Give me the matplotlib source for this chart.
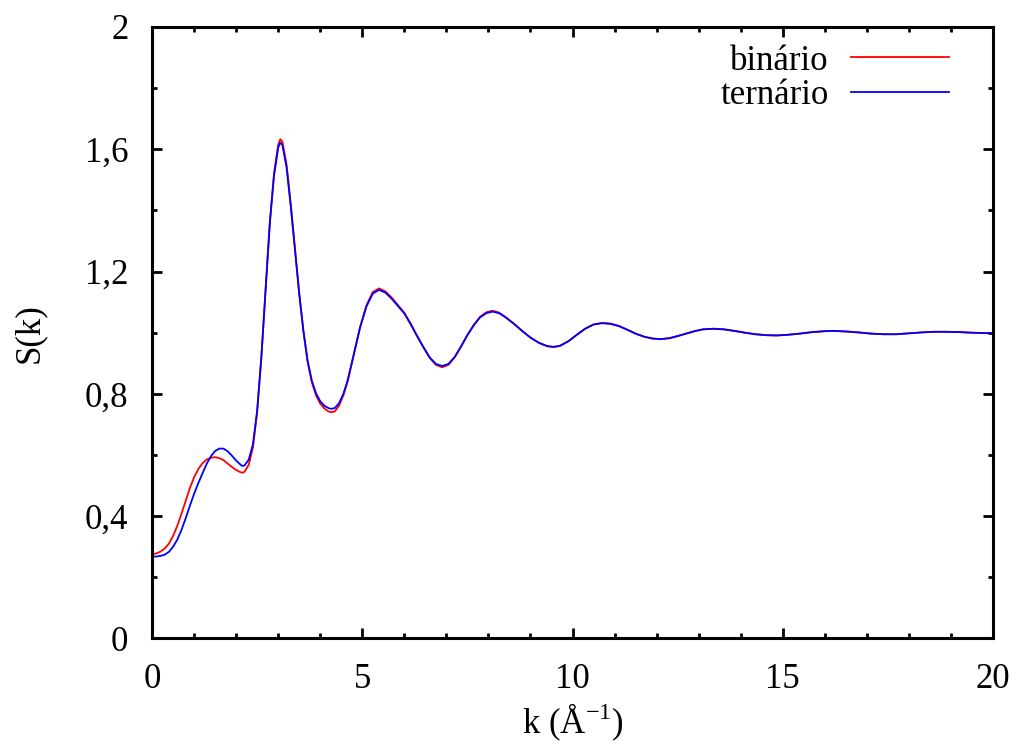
import matplotlib
matplotlib.use("Agg")
import matplotlib.pyplot as plt
from matplotlib.ticker import MultipleLocator

plt.rcParams['font.family'] = ['Liberation Serif', 'DejaVu Serif']
plt.rcParams['mathtext.fontset'] = 'custom'
plt.rcParams['mathtext.rm'] = 'Liberation Serif'

# structure factor S(k) for the two liquids
k = [0.0, 0.1, 0.2, 0.3, 0.4, 0.5, 0.6, 0.7, 0.8, 0.9, 1.0, 1.1, 1.2, 1.3,
     1.4, 1.5, 1.6, 1.7, 1.8, 1.9, 2.0, 2.1, 2.15, 2.2, 2.3, 2.4, 2.5, 2.6,
     2.7, 2.8, 2.9, 3.0, 3.05, 3.1, 3.2, 3.3, 3.4, 3.5, 3.6, 3.7, 3.8, 3.9,
     4.0, 4.1, 4.2, 4.27, 4.35, 4.45, 4.55, 4.65, 4.8, 4.95, 5.1, 5.25, 5.4,
     5.55, 5.7, 5.85, 6.0, 6.15, 6.3, 6.45, 6.6, 6.75, 6.9, 7.05, 7.2, 7.35,
     7.5, 7.65, 7.8, 7.95, 8.1, 8.25, 8.4, 8.6, 8.8, 9.0, 9.2, 9.4, 9.55,
     9.7, 9.9, 10.1, 10.3, 10.5, 10.7, 10.9, 11.1, 11.3, 11.5, 11.7, 11.9,
     12.1, 12.3, 12.5, 12.7, 12.9, 13.1, 13.35, 13.6, 13.85, 14.1, 14.35,
     14.6, 14.85, 15.1, 15.4, 15.7, 16.0, 16.2, 16.5, 16.8, 17.1, 17.4,
     17.7, 18.0, 18.3, 18.6, 18.9, 19.2, 19.5, 19.8, 20.0]

s_binario = [0.276, 0.278, 0.284, 0.294, 0.310, 0.335, 0.368, 0.408, 0.450,
             0.492, 0.527, 0.554, 0.573, 0.585, 0.591, 0.593, 0.590, 0.583,
             0.572, 0.561, 0.551, 0.544, 0.542, 0.545, 0.568, 0.625, 0.740,
             0.920, 1.140, 1.360, 1.520, 1.615, 1.633, 1.625, 1.550, 1.420,
             1.275, 1.130, 1.005, 0.905, 0.838, 0.795, 0.768, 0.752, 0.742,
             0.740, 0.743, 0.762, 0.795, 0.840, 0.930, 1.020, 1.090, 1.133,
             1.145, 1.135, 1.115, 1.090, 1.065, 1.030, 0.990, 0.953, 0.918,
             0.895, 0.887, 0.895, 0.920, 0.955, 0.993, 1.025, 1.052, 1.067,
             1.072, 1.066, 1.052, 1.030, 1.006, 0.984, 0.967, 0.956, 0.953,
             0.957, 0.972, 0.993, 1.013, 1.027, 1.032, 1.030, 1.022, 1.010,
             0.997, 0.987, 0.981, 0.979, 0.982, 0.989, 0.997, 1.005, 1.011,
             1.013, 1.011, 1.006, 1.000, 0.995, 0.992, 0.991, 0.993, 0.997,
             1.002, 1.005, 1.006, 1.004, 1.001, 0.997, 0.995, 0.995, 0.998,
             1.001, 1.003, 1.003, 1.002, 1.000, 0.999, 0.998]

s_ternario = [0.268, 0.268, 0.270, 0.274, 0.283, 0.300, 0.323, 0.355, 0.393,
              0.434, 0.473, 0.508, 0.540, 0.571, 0.596, 0.613, 0.621, 0.621,
              0.612, 0.598, 0.582, 0.569, 0.564, 0.566, 0.585, 0.635, 0.745,
              0.920, 1.138, 1.355, 1.512, 1.605, 1.622, 1.614, 1.540, 1.412,
              1.270, 1.128, 1.006, 0.908, 0.843, 0.802, 0.776, 0.761, 0.753,
              0.751, 0.754, 0.770, 0.800, 0.843, 0.930, 1.018, 1.086, 1.128,
              1.140, 1.131, 1.111, 1.087, 1.063, 1.028, 0.990, 0.954, 0.920,
              0.898, 0.891, 0.898, 0.921, 0.955, 0.992, 1.024, 1.050, 1.064,
              1.069, 1.064, 1.051, 1.030, 1.006, 0.984, 0.967, 0.956, 0.954,
              0.957, 0.972, 0.993, 1.013, 1.027, 1.031, 1.029, 1.022, 1.010,
              0.997, 0.987, 0.981, 0.979, 0.982, 0.989, 0.997, 1.005, 1.011,
              1.013, 1.011, 1.006, 1.000, 0.995, 0.992, 0.991, 0.993, 0.997,
              1.002, 1.005, 1.006, 1.004, 1.001, 0.997, 0.995, 0.995, 0.998,
              1.001, 1.003, 1.003, 1.002, 1.000, 0.999, 0.998]

yticks = [0, 0.4, 0.8, 1.2, 1.6, 2.0]
ytick_labels = ['0', '0,4', '0,8', '1,2', '1,6', '2']
xticks = [0, 5, 10, 15, 20]

fs = 25

fig = plt.figure(figsize=(10.21, 7.45), dpi=100)
ax = fig.add_axes([0.1489, 0.143, 0.8237, 0.8208])

ax.plot(k, s_binario, color='#ff0000', lw=1.3, label='binário',
        solid_joinstyle='round')
ax.plot(k, s_ternario, color='#0000ff', lw=1.3, label='ternário',
        solid_joinstyle='round')

ax.set_xlim(0, 20)
ax.set_ylim(0, 2)
ax.set_xticks(xticks)
ax.set_xticklabels([str(t) for t in xticks])
ax.set_yticks(yticks)
ax.set_yticklabels(ytick_labels)
ax.xaxis.set_minor_locator(MultipleLocator(1))
ax.yaxis.set_minor_locator(MultipleLocator(0.2))

ax.tick_params(which='both', direction='in', top=True, right=True,
               labelsize=fs, width=2)
ax.tick_params(axis='x', which='major', length=7, pad=18)
ax.tick_params(axis='y', which='major', length=7, pad=17)
ax.tick_params(which='minor', length=3.5)
for sp in ax.spines.values():
    sp.set_linewidth(2.2)

ax.set_xlabel(r'k (Å$^{-1}$)', fontsize=fs, labelpad=4)
ax.set_ylabel('S(k)', fontsize=fs, labelpad=28)

ax.legend(loc='upper right', frameon=False, markerfirst=False, fontsize=fs,
          handlelength=2.8, handletextpad=0.65, labelspacing=0.05,
          borderaxespad=0.3, bbox_to_anchor=(0.976, 1.011))

fig.savefig('out.png', dpi=100)
